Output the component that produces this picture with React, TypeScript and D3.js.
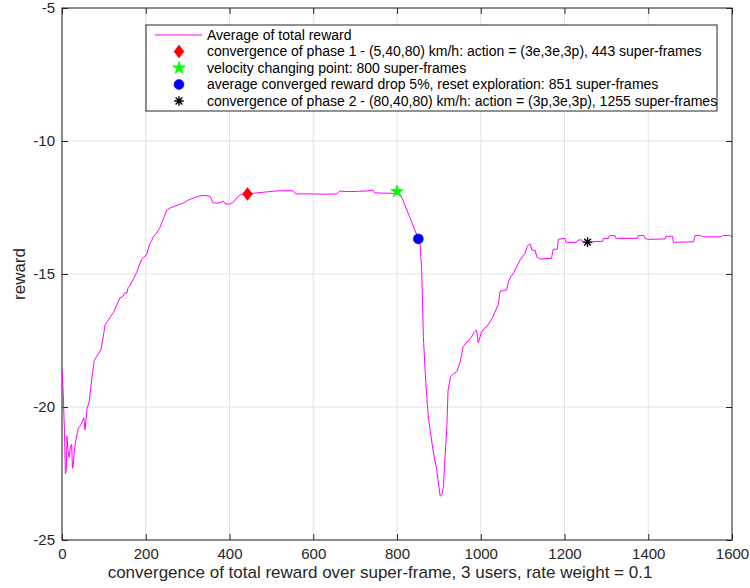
import { useEffect, useRef } from 'react'
import * as d3 from 'd3'

// average of total reward
const frames = [
  0, 3, 6, 8, 10, 12, 14, 17, 20, 23, 25, 27, 29, 33, 39, 44, 47, 52, 55, 60,
  65, 71, 77, 79, 87, 93, 97, 103, 110, 116, 123, 130, 134, 138, 145, 150, 155, 158, 162, 170,
  178, 184, 190, 196, 202, 206, 210, 214, 218, 224, 230, 234, 238, 244, 250, 258, 266, 278, 290, 302,
  314, 322, 330, 342, 353, 357, 361, 369, 377, 385, 388, 391, 401, 407, 413, 419, 425, 435, 445, 460,
  473, 485, 497, 510, 521, 540, 552, 556, 560, 580, 600, 630, 656, 660, 664, 676, 688, 710, 728, 735,
  743, 745, 747, 770, 799, 800, 811, 830, 851, 855, 859, 863, 867, 871, 875, 879, 887, 895, 903, 907,
  911, 915, 919, 922, 928, 935, 943, 950, 958, 964, 970, 978, 984, 990, 994, 1002, 1008, 1014, 1022, 1030,
  1036, 1042, 1046, 1054, 1062, 1066, 1072, 1078, 1086, 1094, 1100, 1106, 1110, 1114, 1118, 1122, 1130, 1134, 1142, 1169,
  1173, 1183, 1185, 1201, 1204, 1229, 1233, 1241, 1245, 1255, 1291, 1293, 1305, 1307, 1321, 1323, 1374, 1376, 1390, 1392,
  1400, 1440, 1442, 1458, 1460, 1508, 1512, 1524, 1528, 1575, 1578, 1594, 1600
]

const avgReward = [
  -18.6, -19.5, -21.0, -22.5, -22.4, -21.1, -21.6, -21.9, -21.5, -21.4, -22.3, -22.2, -21.7, -21.25, -20.8, -20.7, -20.6, -20.4, -20.86, -20.04,
  -19.8, -18.95, -18.25, -18.2, -18.0, -17.85, -17.5, -16.9, -16.75, -16.6, -16.45, -16.2, -16.05, -15.9, -15.85, -15.7, -15.72, -15.5, -15.45, -15.2,
  -14.95, -14.7, -14.45, -14.35, -14.28, -14.05, -13.85, -13.75, -13.6, -13.5, -13.35, -13.25, -13.08, -12.85, -12.6, -12.52, -12.47, -12.4, -12.33, -12.22,
  -12.14, -12.1, -12.06, -12.05, -12.08, -12.2, -12.33, -12.33, -12.32, -12.26, -12.3, -12.37, -12.37, -12.32, -12.24, -12.1, -12.03, -12.0, -11.99, -11.96,
  -11.94, -11.92, -11.9, -11.88, -11.87, -11.87, -11.87, -11.95, -11.99, -11.99, -11.99, -12.0, -11.99, -11.93, -11.88, -11.9, -11.9, -11.89, -11.88, -11.86,
  -11.84, -11.9, -11.95, -11.96, -11.97, -11.9, -12.1, -12.85, -13.68, -13.85, -14.85, -17.36, -18.6, -19.61, -20.4, -20.86, -21.73, -22.37, -23.35, -23.3,
  -23.0, -21.8, -20.74, -19.36, -18.86, -18.75, -18.67, -18.36, -17.73, -17.6, -17.54, -17.36, -17.2, -17.1, -17.58, -17.17, -17.05, -16.98, -16.8, -16.58,
  -16.35, -16.15, -15.66, -15.62, -15.6, -15.29, -15.1, -14.97, -14.72, -14.47, -14.33, -14.22, -14.0, -13.91, -13.87, -14.1, -14.12, -14.37, -14.44, -14.41,
  -14.07, -14.07, -13.7, -13.66, -13.81, -13.81, -13.72, -13.72, -13.81, -13.8, -13.77, -13.66, -13.66, -13.56, -13.56, -13.66, -13.66, -13.56, -13.56, -13.66,
  -13.7, -13.68, -13.58, -13.58, -13.81, -13.79, -13.55, -13.55, -13.6, -13.6, -13.55, -13.55, -13.6
]

// event markers
const markerFrames = [443, 800, 851, 1255]
const markerRewards = [-11.99, -11.9, -13.68, -13.8]
const markerColors = ['#ff0000', '#00ff00', '#0000ff', '#000000']

const legendLabels = [
  'Average of total reward',
  'convergence of phase 1 - (5,40,80) km/h: action = (3e,3e,3p), 443 super-frames',
  'velocity changing point: 800 super-frames',
  'average converged reward drop 5%, reset exploration: 851 super-frames',
  'convergence of phase 2 - (80,40,80) km/h: action = (3p,3e,3p), 1255 super-frames'
]

const xTicks = [0, 200, 400, 600, 800, 1000, 1200, 1400, 1600]
const yTicks = [-25, -20, -15, -10, -5]

const FONT = '"Liberation Sans", Arial, Helvetica, sans-serif'

function drawMarker(g: d3.Selection<SVGGElement, unknown, null, undefined>, kind: number, x: number, y: number) {
  const color = markerColors[kind]
  if (kind === 0) {
    g.append('path')
      .attr('d', `M${x},${y - 6.5}L${x + 5},${y}L${x},${y + 6.5}L${x - 5},${y}Z`)
      .attr('fill', color)
      .attr('stroke', color)
      .attr('stroke-width', 0.5)
  } else if (kind === 1) {
    g.append('path')
      .attr('d', d3.symbol(d3.symbolStar, 48)()!)
      .attr('transform', `translate(${x},${y})`)
      .attr('fill', color)
      .attr('stroke', color)
      .attr('stroke-width', 0.8)
  } else if (kind === 2) {
    g.append('circle')
      .attr('cx', x)
      .attr('cy', y)
      .attr('r', 5)
      .attr('fill', color)
      .attr('stroke', color)
      .attr('stroke-width', 0.5)
  } else {
    const r = 4.8
    const d = r * Math.SQRT1_2
    g.append('path')
      .attr('d', `M${x - r},${y}L${x + r},${y}M${x},${y - r}L${x},${y + r}M${x - d},${y - d}L${x + d},${y + d}M${x - d},${y + d}L${x + d},${y - d}`)
      .attr('stroke', color)
      .attr('stroke-width', 1.4)
      .attr('fill', 'none')
  }
}

export default function App() {
  const svgRef = useRef<SVGSVGElement>(null)

  useEffect(() => {
    if (!svgRef.current) return
    const svg = d3.select(svgRef.current)
    svg.selectAll('*').remove()

    const width = 750
    const height = 588
    const margin = { top: 8, right: 18, bottom: 48, left: 62 }
    const innerWidth = width - margin.left - margin.right
    const innerHeight = height - margin.top - margin.bottom

    svg.append('rect').attr('width', width).attr('height', height).attr('fill', '#ffffff')

    const g = svg.append('g').attr('transform', `translate(${margin.left},${margin.top})`)

    const x = d3.scaleLinear().domain([0, 1600]).range([0, innerWidth])
    const y = d3.scaleLinear().domain([-25, -5]).range([innerHeight, 0])

    // grid
    g.append('g')
      .selectAll('line')
      .data(xTicks)
      .join('line')
      .attr('x1', d => x(d))
      .attr('x2', d => x(d))
      .attr('y1', 0)
      .attr('y2', innerHeight)
      .attr('stroke', '#e3e3e3')
    g.append('g')
      .selectAll('line')
      .data(yTicks)
      .join('line')
      .attr('x1', 0)
      .attr('x2', innerWidth)
      .attr('y1', d => y(d))
      .attr('y2', d => y(d))
      .attr('stroke', '#e3e3e3')

    // axes with inward ticks on all sides
    const axisColor = '#262626'
    const styleAxis = (sel: d3.Selection<SVGGElement, unknown, null, undefined>) => {
      sel.attr('color', axisColor)
      sel.select('.domain').remove()
      sel.selectAll('text').attr('font-family', FONT).attr('font-size', '15px').attr('fill', axisColor)
    }
    const plain = (d: d3.NumberValue) => String(d)

    g.append('g')
      .attr('transform', `translate(0,${innerHeight})`)
      .call(d3.axisBottom(x).tickValues(xTicks).tickFormat(plain).tickSizeInner(-6).tickPadding(8))
      .call(styleAxis)
    g.append('g')
      .call(d3.axisLeft(y).tickValues(yTicks).tickFormat(plain).tickSizeInner(-6).tickPadding(7))
      .call(styleAxis)
    g.append('g')
      .call(d3.axisTop(x).tickValues(xTicks).tickFormat(() => '').tickSizeInner(-6))
      .call(styleAxis)
    g.append('g')
      .attr('transform', `translate(${innerWidth},0)`)
      .call(d3.axisRight(y).tickValues(yTicks).tickFormat(() => '').tickSizeInner(-6))
      .call(styleAxis)

    g.append('rect')
      .attr('width', innerWidth)
      .attr('height', innerHeight)
      .attr('fill', 'none')
      .attr('stroke', axisColor)
      .attr('stroke-width', 1)

    // reward curve
    const line = d3.line<number>()
      .x((_, i) => x(frames[i]))
      .y(d => y(d))
    g.append('path')
      .datum(avgReward)
      .attr('d', line)
      .attr('fill', 'none')
      .attr('stroke', '#ff00ff')
      .attr('stroke-width', 1)

    markerFrames.forEach((f, i) => drawMarker(g, i, x(f), y(markerRewards[i])))

    // axis labels
    svg.append('text')
      .attr('x', margin.left + innerWidth / 2 - 17)
      .attr('y', 578)
      .attr('text-anchor', 'middle')
      .attr('font-family', FONT)
      .attr('font-size', '17px')
      .attr('fill', axisColor)
      .text('convergence of total reward over super-frame, 3 users, rate weight = 0.1')
    svg.append('text')
      .attr('transform', `translate(25,${margin.top + innerHeight / 2}) rotate(-90)`)
      .attr('text-anchor', 'middle')
      .attr('font-family', FONT)
      .attr('font-size', '17px')
      .attr('fill', axisColor)
      .text('reward')

    // legend
    const legend = svg.append('g').attr('transform', 'translate(146,25)')
    legend.append('rect')
      .attr('width', 571)
      .attr('height', 86)
      .attr('fill', '#ffffff')
      .attr('stroke', axisColor)
      .attr('stroke-width', 1)
    legendLabels.forEach((label, i) => {
      const cy = 10 + i * 16.5
      if (i === 0) {
        legend.append('line')
          .attr('x1', 9).attr('x2', 56)
          .attr('y1', cy).attr('y2', cy)
          .attr('stroke', '#ff00ff')
      } else {
        drawMarker(legend, i - 1, 33, cy)
      }
      legend.append('text')
        .attr('x', 61)
        .attr('y', cy)
        .attr('dy', '0.35em')
        .attr('font-family', FONT)
        .attr('font-size', '14px')
        .attr('fill', '#000000')
        .text(label)
    })
  }, [])

  return (
    <svg
      ref={svgRef}
      width={750}
      height={588}
      style={{ position: 'absolute', left: 0, top: 0 }}
    />
  )
}
